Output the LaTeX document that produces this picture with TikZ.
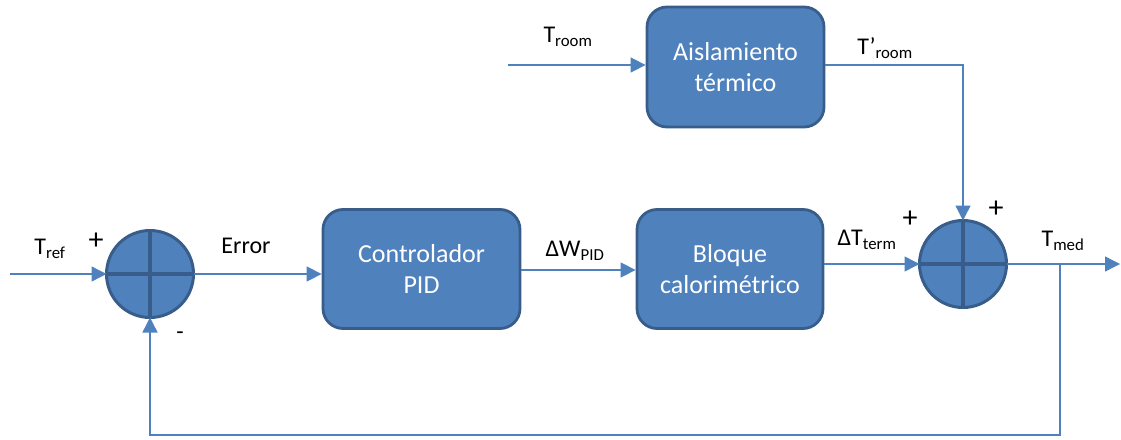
\documentclass[tikz,border=0pt]{standalone}
\usepackage{fontspec}
\setmainfont{Carlito}
\usepackage{xcolor}
\usetikzlibrary{shapes,positioning,arrows.meta,calc}
\definecolor{boxfill}{HTML}{4F81BD}
\definecolor{boxline}{HTML}{385D8A}
\definecolor{wire}{HTML}{4F81BD}

\begin{document}
\begin{tikzpicture}[
    x=1pt, y=-1pt,
    blk/.style ={
        rectangle,
        rounded corners=20pt,
        fill=boxfill,
        draw=boxline,
        line width=2.8pt,
        text=white,
        align=center,
        font=\fontsize{26}{31}\selectfont
    },
    sum/.style ={
        circle,
        fill=boxfill,
        draw=boxline,
        line width=3pt,
        minimum size=87pt,
        outer sep=0pt,
        path picture={\draw[boxline,line width=3.2pt]
            (path picture bounding box.north) -- (path picture bounding box.south)
            (path picture bounding box.west) -- (path picture bounding box.east);}
    },
    conn/.style ={
        draw=wire,
        line width=1.4pt,
        -{Triangle[length=15pt,width=15pt]}
    },
    lbl/.style ={
        font=\fontsize{24}{28}\selectfont,
        inner sep=0pt
    },
    sgn/.style ={
        font=\fontsize{30}{34}\selectfont,
        inner sep=0pt
    }
    ]
    \useasboundingbox (0,0) rectangle (1121,439);

    \foreach \x/ \pos/ \w/ \h/ \txt in {{pid/(421.5,269)/197/119/Controlador\\PID},
                                       {calor/(730,269)/186/119/Bloque\\calorimétrico},
                                       {aisl/(735.5,67)/177/120/Aislamiento\\térmico}}
        \node[blk, minimum width=\w pt, minimum height=\h pt] (\x) at \pos {\txt};

    \node[sum] (sumA) at (150,274) {};
    \node[sum] (sumB) at (963,264) {};

    \coordinate (tin) at (10,274);
    \coordinate (roomin) at (508,65);
    \coordinate (tout) at (1120,264);
    \coordinate (fb) at (1060,435);

    \draw[conn] (tin) -- (sumA.west);
    \draw[conn] (sumA.east) -- (sumA.east -| pid.west);
    \draw[conn] (pid.east |- 0,270) -- (calor.west |- 0,270);
    \draw[conn] (calor.east |- sumB) -- (sumB.west);
    \draw[conn] (roomin) -- (roomin -| aisl.west);
    \draw[conn] (aisl.east |- roomin) -| (sumB.north);
    \draw[conn] (sumB.east) -- (tout);
    \draw[conn] (sumB.east -| fb) -- (fb) -| (sumA.south);

    \node[lbl] (lref) at (50,249) {T\textsubscript{ref}};
    \node[sgn] (pA) at (96,241) {+};
    \node[lbl] (mA) at (180,336) {-};
    \node[lbl] (lerr) at (246,246) {Error};
    \node[lbl] (lw) at (575,251) {ΔW\textsubscript{PID}};
    \node[lbl] (lterm) at (867,240) {ΔT\textsubscript{term}};
    \node[sgn] (pB) at (910,219) {+};
    \node[sgn] (pC) at (996,209) {+};
    \node[lbl] (lmed) at (1063,241) {T\textsubscript{med}};
    \node[lbl] (lroom) at (568,37) {T\textsubscript{room}};
    \node[lbl] (lroomb) at (885,48) {T’\textsubscript{room}};
\end{tikzpicture}
\end{document}
